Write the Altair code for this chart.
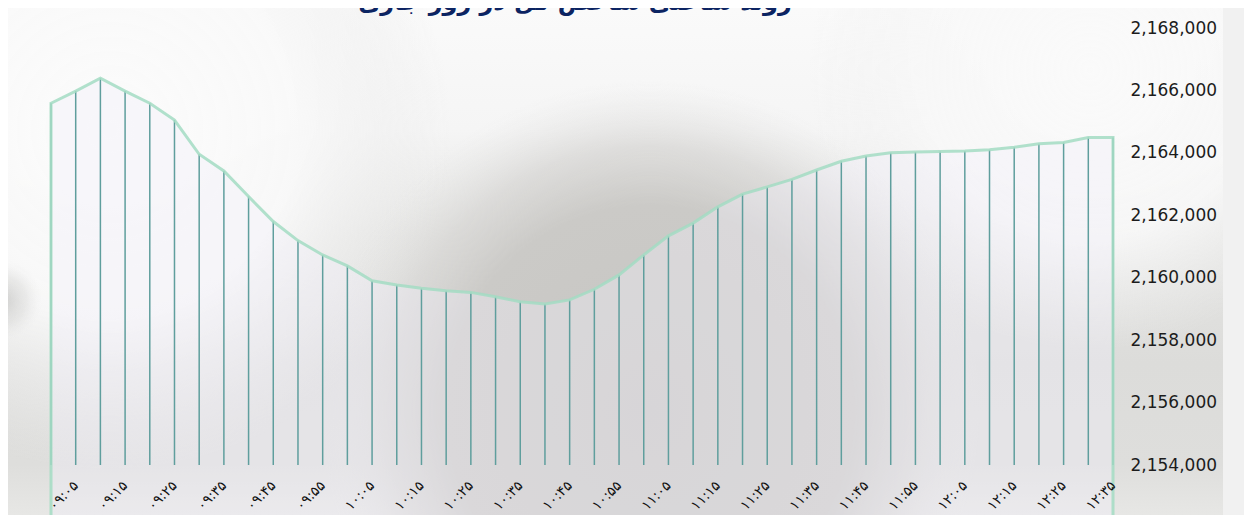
import altair as alt
import pandas as pd

# ---- data ----
minutes = [9 * 60 + 5 * i for i in range(44)]  # 09:00 .. 12:35 every 5 minutes
index_values = [
    2165590, 2165980, 2166390, 2165980, 2165590, 2165050, 2163955, 2163420,
    2162600, 2161800, 2161190, 2160730, 2160380, 2159900, 2159770, 2159660,
    2159580, 2159530, 2159390, 2159230, 2159160, 2159290, 2159630, 2160090,
    2160730, 2161340, 2161750, 2162270, 2162680, 2162910, 2163150, 2163450,
    2163730, 2163900, 2164000, 2164030, 2164040, 2164060, 2164100, 2164180,
    2164290, 2164330, 2164490, 2164490,
]
y_ticks = list(range(2154000, 2168001, 2000))
title_text = "روند ساعتی شاخص کل در روز جاری"

fa = str.maketrans("0123456789", "۰۱۲۳۴۵۶۷۸۹")
time_labels = [f"{m // 60:02d}:{m % 60:02d}".translate(fa) for m in minutes]
shown_labels = time_labels[1::2]

df = pd.DataFrame({"t": time_labels, "v": index_values})

W, H = 1062, 437
PL, PT, PR, PB = 43, 20, 131, 50

xaxis = alt.Axis(values=shown_labels, title=None, labelAngle=-45,
                 labelAlign="right", labelBaseline="middle",
                 labelFont="DejaVu Sans", labelFontSize=14,
                 labelColor="#111111", labelPadding=18,
                 ticks=False, domain=False, grid=False, zindex=2)
yaxis = alt.Axis(orient="right", values=y_ticks, title=None,
                 labelExpr="format(datum.value, ',.0f')",
                 labelFont="DejaVu Sans", labelFontSize=17,
                 labelColor="#1c1c1c", labelPadding=17,
                 ticks=False, domain=False, grid=False, zindex=2)
xscale = alt.Scale(type="point", padding=0)
yscale = alt.Scale(domain=[2154000, 2168000], zero=False, nice=False)


def xenc():
    return alt.X("t:O", sort=time_labels, scale=xscale, axis=xaxis)


def yenc():
    return alt.Y("v:Q", scale=yscale, axis=yaxis)


bg_df = pd.DataFrame({"a": [0]})


def blob(cx, cy, r, stops):
    # cx, cy, r in page pixels; square box keeps the gradient circular
    x0, y0 = cx - 51 - r, cy - 28 - r
    return alt.Chart(bg_df).mark_rect(
        color=alt.RadialGradient(gradient="radial", x1=0.5, y1=0.5, r1=0.0,
                                 x2=0.5, y2=0.5, r2=0.5,
                                 stops=[alt.GradientStop(offset=o, color=c) for o, c in stops])
    ).encode(x=alt.value(x0), x2=alt.value(x0 + 2 * r),
             y=alt.value(y0), y2=alt.value(y0 + 2 * r))


background = alt.Chart(bg_df).mark_rect(
    color=alt.LinearGradient(
        gradient="linear", x1=0, y1=0, x2=0, y2=1,
        stops=[alt.GradientStop(offset=0, color="#fafafa"),
               alt.GradientStop(offset=0.24, color="#f5f5f5"),
               alt.GradientStop(offset=0.45, color="#e5e5e3"),
               alt.GradientStop(offset=0.7, color="#dcdcda"),
               alt.GradientStop(offset=0.9, color="#dededc"),
               alt.GradientStop(offset=1, color="#e7e7e5")]
    )
).encode(x=alt.value(-PL), x2=alt.value(W + PR), y=alt.value(-PT), y2=alt.value(H + PB))

white_left = blob(110, 130, 340, [(0, "rgba(251,251,251,1)"), (0.55, "rgba(249,249,249,0.95)"),
                                  (0.8, "rgba(240,240,240,0.5)"), (1, "rgba(235,235,235,0)")])
white_right = blob(1090, 70, 280, [(0, "rgba(250,250,250,1)"), (0.6, "rgba(248,248,248,0.9)"),
                                   (1, "rgba(240,240,240,0)")])
hump = blob(650, 410, 330, [(0, "rgba(199,198,195,1)"), (0.62, "rgba(203,202,199,1)"),
                            (0.8, "rgba(214,213,211,0.7)"), (1, "rgba(230,230,229,0)")])
left_spot = blob(2, 300, 40, [(0, "rgba(175,175,173,0.55)"), (0.6, "rgba(200,200,198,0.3)"),
                              (1, "rgba(225,225,225,0)")])

side_panel = alt.Chart(bg_df).mark_rect(color="#f1f1f1").encode(
    x=alt.value(W + 110), x2=alt.value(W + PR), y=alt.value(-PT), y2=alt.value(H + PB))

base = alt.Chart(df)
area_fill = base.mark_area(color="#f1eff9", opacity=0.38).encode(
    x=xenc(), y=yenc(), y2=alt.value(H))
drops = base.mark_rule(color="#5f9e9d", strokeWidth=1.5).encode(
    x=xenc(), y=yenc(), y2=alt.value(H))
outline = base.mark_area(fillOpacity=0, stroke="#a3dcc3", strokeWidth=3,
                         strokeOpacity=0.85).encode(
    x=xenc(), y=yenc(), y2=alt.value(H))

title_df = pd.DataFrame({"title": [title_text]})
title = alt.Chart(title_df).mark_text(
    font="DejaVu Sans", fontSize=24, fontWeight="bold", color="#0c2462",
    align="center", baseline="alphabetic"
).encode(x=alt.value(524), y=alt.value(-18), text="title:N")

chart = alt.layer(background, white_left, white_right, hump, left_spot, side_panel,
                  area_fill, drops, outline, title).properties(
    width=W, height=H,
    autosize=alt.AutoSizeParams(type="none"),
    padding={"left": PL, "top": PT, "right": PR, "bottom": PB},
    background="white",
).configure_view(stroke=None)

chart.save("out.html", embed_options={"renderer": "svg", "actions": False})
